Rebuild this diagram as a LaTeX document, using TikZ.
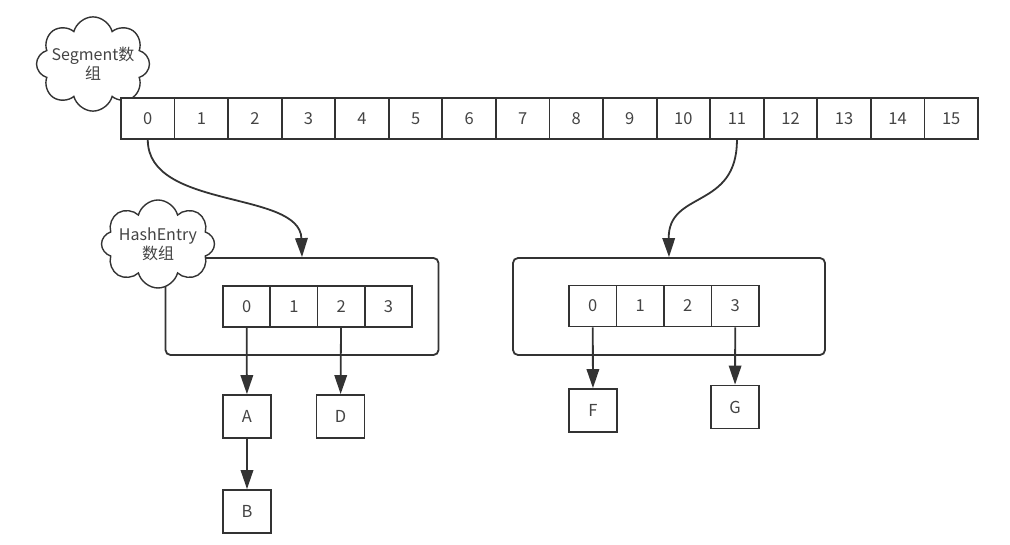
\documentclass[tikz,border=0pt]{standalone}
\usepackage{fontspec}
\setmainfont{Noto Sans CJK SC}
\usetikzlibrary{arrows.meta,shapes.symbols}
\definecolor{inkline}{HTML}{333333}
\definecolor{inktext}{HTML}{444444}

\begin{document}
\begin{tikzpicture}[x=1pt,y=-1pt,>={Triangle[length=19pt,width=12.5pt]},
                    line width=1.8pt,color=inkline,text=inktext,
                    font=\fontsize{16.5}{19}\selectfont]
  \tikzstyle{cell}=[rectangle,draw,fill=white,inner sep=0pt,minimum height=41pt]
  \tikzstyle{item}=[rectangle,draw,fill=white,inner sep=0pt,minimum width=48pt,minimum height=43pt]
  \tikzstyle{holder}=[rectangle,draw,rounded corners=5pt,inner sep=0pt]
  \tikzstyle{bubble}=[cloud,draw,fill=white,line width=1.4pt,cloud puffs=8,
                      minimum width=113pt,minimum height=88pt,inner xsep=-14pt,inner ysep=-6pt,
                      align=center,font=\fontsize{16}{19}\selectfont]

  \useasboundingbox (0,0) rectangle (1010,545);

  % segment array
  \node[bubble] (segcloud) at (93,64) {Segment数\\组};
  \foreach \i in {0,...,15}
    \node[cell,minimum width=53.56pt] (s\i) at ({147.78+53.56*\i},118.5) {\i};

  % hash entry containers
  \node[holder,minimum width=273pt,minimum height=97pt] (leftbox) at (302,306.5) {};
  \node[holder,minimum width=312pt,minimum height=97pt] (rightbox) at (669,306.5) {};
  \node[bubble] (hashcloud) at (158,244) {HashEntry\\数组};

  \foreach \i in {0,...,3} {
    \node[cell,minimum width=47.25pt] (l\i) at ({246.6+47.25*\i},306.5) {\i};
    \node[cell,minimum width=47.5pt] (r\i) at ({592.75+47.5*\i},306) {\i};
  }

  % entries
  \node[item] (A) at (247,416.5) {A};
  \node[item] (D) at (340.5,416.5) {D};
  \node[item] (B) at (247,511.5) {B};
  \node[item] (F) at (593,410.5) {F};
  \node[item] (G) at (735,407) {G};

  \draw[->] (s0.south) .. controls (148,210) and (300,190) .. (leftbox.north);
  \draw[->] (s11.south) .. controls (737,210) and (668,190) .. (rightbox.north);

  \path (l0) edge[->] (A)
        (l2) edge[->] (D)
        (A)  edge[->] (B)
        (r0) edge[->] (F)
        (r3) edge[->] (G);
\end{tikzpicture}
\end{document}
